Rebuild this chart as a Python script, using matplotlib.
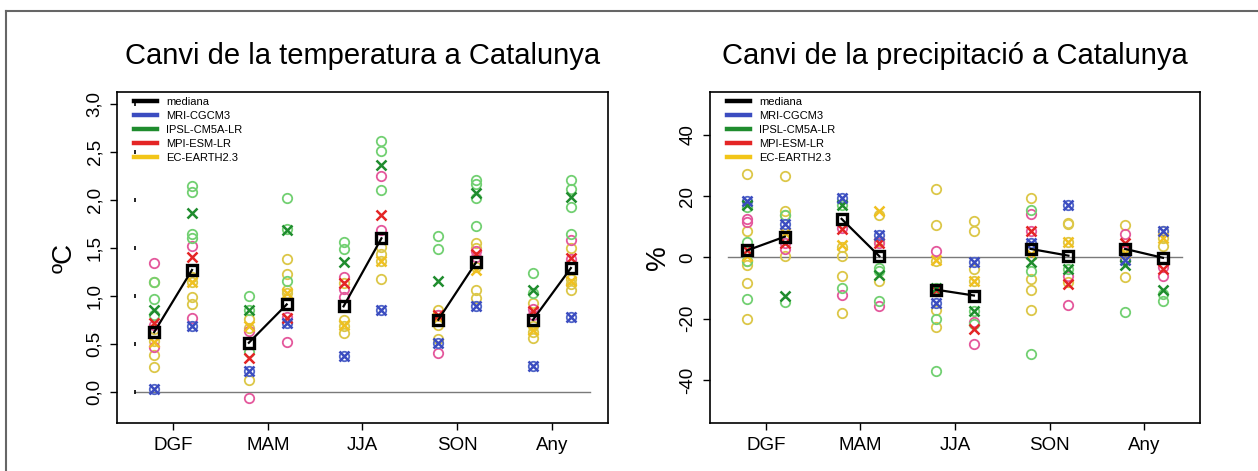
import numpy as np
import matplotlib
matplotlib.use("Agg")
import matplotlib.pyplot as plt
from matplotlib.lines import Line2D

plt.rcParams['font.family'] = ['Liberation Sans', 'DejaVu Sans']

seasons = ["DGF", "MAM", "JJA", "SON", "Any"]
models = ["mediana", "MRI-CGCM3", "IPSL-CM5A-LR", "MPI-ESM-LR", "EC-EARTH2.3"]

# ---- temperatura (ºC), parells (periode 1, periode 2) per estacio ----
t_median = [(0.62, 1.27), (0.51, 0.91), (0.89, 1.60), (0.75, 1.35), (0.75, 1.29)]
t_mri = [(0.03, 0.68), (0.22, 0.72), (0.37, 0.85), (0.51, 0.89), (0.27, 0.78)]
t_ipsl = [(0.85, 1.86), (0.85, 1.69), (1.35, 2.37), (1.15, 2.07), (1.06, 2.03)]
t_mpi = [(0.72, 1.41), (0.35, 0.77), (1.13, 1.84), (0.80, 1.44), (0.84, 1.39)]
t_ec = [(0.52, 1.14), (0.68, 1.03), (0.70, 1.36), (0.78, 1.27), (0.64, 1.15)]

# regionals (cercles), 10 columnes: DGF1, DGF2, MAM1, MAM2, ...
t_ipsl_rcm = [[1.14, 0.97, 0.80], [2.15, 2.08, 1.65, 1.60], [1.00, 0.41, 0.85], [2.02, 1.70, 1.15],
              [1.56, 1.49], [2.62, 2.51, 2.10], [1.62, 1.49], [2.21, 2.17, 2.02, 1.73],
              [1.24, 1.03], [2.21, 2.12, 1.93, 1.65]]
t_mpi_rcm = [[1.34, 0.47, 0.70], [1.52, 0.77], [-0.07, 0.63], [0.52, 0.78], [1.20, 0.99, 1.07],
             [2.25, 1.69], [0.40, 0.80], [1.47, 1.40], [0.80, 0.86], [1.58, 1.38]]
t_ec_rcm = [[1.14, 0.53, 0.385, 0.26, 0.65], [1.14, 0.99, 0.91, 1.20], [0.76, 0.66, 0.125],
            [1.38, 1.23, 1.03, 1.06], [0.75, 0.68, 0.61, 1.13], [1.51, 1.44, 1.36, 1.18],
            [0.85, 0.80, 0.70, 0.55], [1.55, 1.50, 1.06, 0.98, 1.30], [0.92, 0.68, 0.62, 0.56],
            [1.50, 1.18, 1.12, 1.06]]

# ---- precipitacio (%) ----
p_median = [(2.3, 6.8), (12.6, 0.4), (-10.5, -12.4), (2.8, 0.6), (2.8, -0.1)]
p_mri = [(18.4, 11.0), (19.3, 7.5), (-15.0, -1.5), (4.8, 17.1), (-0.7, 8.6)]
p_ipsl = [(17.0, -12.6), (17.0, -5.6), (-10.0, -17.3), (-1.5, -3.9), (-2.3, -10.7)]
p_mpi = [(2.3, 4.8), (9.2, 4.8), (-10.5, -23.3), (8.6, -8.8), (4.8, -3.7)]
p_ec = [(0.5, 8.1), (4.0, 15.1), (-0.7, -7.7), (1.0, 5.0), (1.5, 6.4)]

p_ipsl_rcm = [[16.5, 5.0, -13.4, -1.0], [-14.6, 14.0], [17.0, -9.9], [-3.4, -4.5, -14.3],
              [-20.0, -36.9, -10.0], [-21.7, -17.3], [15.4, -4.5, -31.4], [-3.9],
              [3.0, -17.7], [-14.3, -12.0]]
p_mpi_rcm = [[12.4, 11.5], [2.8, 4.8], [-12.1, 9.5], [4.8, -15.7], [2.0, -11.0],
             [-28.2, -21.0], [14.1, 8.6], [-6.1, -15.6], [7.8, 2.0], [-5.9, -3.0]]
p_ec_rcm = [[27.2, 8.8, -1.2, -2.3, -8.3, -20.0], [26.6, 15.1, 14.0, 0.4], [0.4, -6.1, -18.1, 3.5],
            [14.0, 5.5, -7.7], [22.2, 10.6, -17.0, -22.6, -1.0], [11.9, 8.6, -3.9, -7.7],
            [19.3, -6.9, -10.5, -17.2], [11.3, 11.0, -8.0, 5.0], [10.5, -0.7, -6.3, 1.0],
            [8.6, 6.4, 3.7]]

leg_colors = ["black", "#3b4cc0", "#1f8c2e", "#e42525", "#f2c518"]
x_colors = {"mri": "#3b4cc0", "ipsl": "#1f8c2e", "mpi": "#e42525", "ec": "#f0c020"}
c_colors = {"mri": "#5065c8", "ipsl": "#72d072", "mpi": "#e4589c", "ec": "#dcc748"}

OFF = 0.2


def draw_panel(ax, med, gcm, rcm, ylim, yticks, yticklabels, ylabel, title, tickdots=False):
    ax.plot([0.6, 5.4], [0, 0], color="#7a7a7a", lw=1.0, zorder=1)
    # cercles dels models regionals
    for key in ["ec", "mpi", "ipsl"]:
        cols = rcm[key]
        for j, vals in enumerate(cols):
            xpos = j // 2 + 1 + (OFF if j % 2 else -OFF)
            ax.plot([xpos] * len(vals), vals, 'o', ms=6.8, mfc='none', mec=c_colors[key],
                    mew=1.3, zorder=2)
    # cercle blau al voltant de la X de MRI
    for i, pair in enumerate(gcm["mri"]):
        ax.plot([i + 1 - OFF, i + 1 + OFF], pair, 'o', ms=6.8, mfc='none', mec=c_colors["mri"],
                mew=1.3, zorder=2)
    # X dels models globals
    for key in ["ec", "mpi", "ipsl", "mri"]:
        for i, pair in enumerate(gcm[key]):
            ax.plot([i + 1 - OFF, i + 1 + OFF], pair, 'x', ms=7.5, mec=x_colors[key], mew=1.8, zorder=3)
    # mediana
    for i, pair in enumerate(med):
        ax.plot([i + 1 - OFF, i + 1 + OFF], pair, '-', color='black', lw=1.6, zorder=4)
        ax.plot([i + 1 - OFF, i + 1 + OFF], pair, 's', ms=7.5, mfc='none', mec='black', mew=2.4, zorder=5)

    if tickdots:
        ax.plot([0.6] * len(yticks), yticks, marker=(2, 0, 0), ls='none', ms=3, mew=1.2,
                color='black', zorder=1)

    ax.set_xlim(0.408, 5.592)
    ax.set_ylim(*ylim)
    ax.set_xticks(range(1, 6))
    ax.set_xticklabels(seasons)
    ax.set_yticks(yticks)
    ax.set_yticklabels(yticklabels, rotation=90, va='center')
    ax.tick_params(axis='both', labelsize=13.5, length=5, width=1.0, pad=5)
    for s in ax.spines.values():
        s.set_linewidth(1.2)
    ax.set_ylabel(ylabel, fontsize=20, labelpad=6)
    ax.set_title(title, fontsize=21, pad=20)

    handles = [Line2D([0], [0], color=c, lw=3.2) for c in leg_colors]
    ax.legend(handles, models, loc='upper left', bbox_to_anchor=(0.034, 0.985), frameon=False,
              fontsize=8, handlelength=2.1, handletextpad=0.8, labelspacing=0.36,
              borderaxespad=0, borderpad=0)


fig = plt.figure(figsize=(12.58, 4.71), dpi=100)
ax1 = fig.add_axes([0.0930, 0.1019, 0.3903, 0.7028])
ax2 = fig.add_axes([0.5644, 0.1019, 0.3895, 0.7028])

draw_panel(ax1, t_median,
           {"mri": t_mri, "ipsl": t_ipsl, "mpi": t_mpi, "ec": t_ec},
           {"ipsl": t_ipsl_rcm, "mpi": t_mpi_rcm, "ec": t_ec_rcm},
           (-0.328, 3.128), [0, 0.5, 1.0, 1.5, 2.0, 2.5, 3.0],
           ["0,0", "0,5", "1,0", "1,5", "2,0", "2,5", "3,0"],
           "ºC", "Canvi de la temperatura a Catalunya", tickdots=True)

draw_panel(ax2, p_median,
           {"mri": p_mri, "ipsl": p_ipsl, "mpi": p_mpi, "ec": p_ec},
           {"ipsl": p_ipsl_rcm, "mpi": p_mpi_rcm, "ec": p_ec_rcm},
           (-54, 54), [-40, -20, 0, 20, 40],
           ["-40", "-20", "0", "20", "40"],
           "%", "Canvi de la precipitació a Catalunya")

# marc exterior
fx = 6 / 1258
fy = 1 - 11 / 471
fig.add_artist(Line2D([fx, 1.0], [fy, fy], color="#666666", lw=1.5))
fig.add_artist(Line2D([fx, fx], [0.0, fy], color="#666666", lw=1.5))

fig.savefig("out.png", dpi=100)
